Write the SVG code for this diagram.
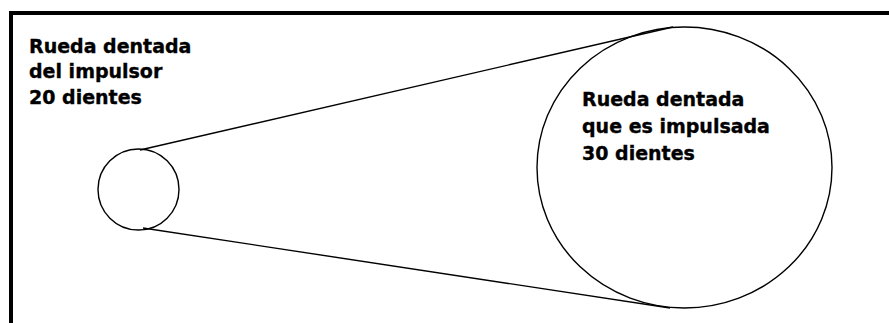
<svg xmlns="http://www.w3.org/2000/svg" width="889" height="323" viewBox="0 0 889 323">
<style>
.frame{fill:#000}
.wheel{fill:none;stroke:#000;stroke-width:1.4}
.belt{fill:none;stroke:#000;stroke-width:1.4}
.lbl{font-family:"DejaVu Sans",Verdana,sans-serif;font-weight:bold;font-size:19px;fill:#000;stroke:#000;stroke-width:0.35}
</style>
<rect width="889" height="323" fill="#fff"/>
<g id="frame">
<rect class="frame" x="9" y="11" width="880" height="4"/>
<rect class="frame" x="9" y="11" width="4" height="312"/>
</g>
<g id="connectors">
<line class="belt" x1="140" y1="150" x2="673" y2="27"/>
<line class="belt" x1="143" y1="228" x2="670" y2="308"/>
</g>
<g id="driver">
<circle class="wheel" cx="138.5" cy="189.5" r="40.5"/>
<text class="lbl" x="29" y="53">Rueda dentada</text>
<text class="lbl" x="29" y="78">del impulsor</text>
<text class="lbl" x="29" y="104">20 dientes</text>
</g>
<g id="driven">
<ellipse class="wheel" cx="684.5" cy="167.5" rx="147.5" ry="140.5"/>
<text class="lbl" x="582" y="106">Rueda dentada</text>
<text class="lbl" x="582" y="133">que es impulsada</text>
<text class="lbl" x="582" y="160">30 dientes</text>
</g>
</svg>
